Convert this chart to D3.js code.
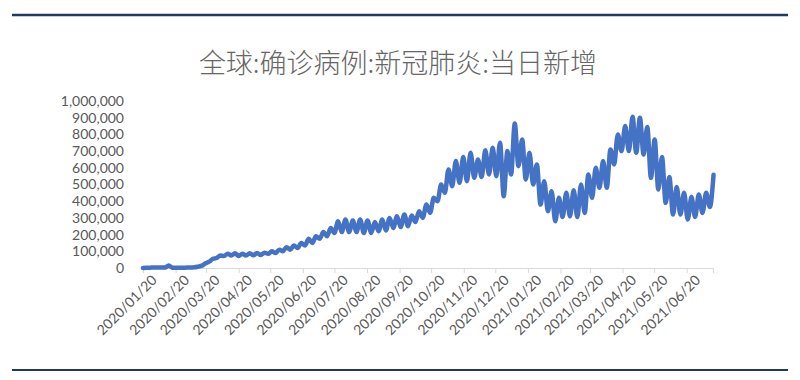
<!DOCTYPE html>
<html>
<head>
<meta charset="utf-8">
<script src="https://cdn.jsdelivr.net/npm/d3@7/dist/d3.min.js"></script>
<style>
    body { margin: 0; background: #fff; }
    svg { display: block; }
    .tick-label { font-family: Lato, 'Open Sans', sans-serif; font-size: 14px; fill: #595959; }
</style>
</head>
<body>
<div id="vis"></div>
<script>
'use strict';

var title = '全球:确诊病例:新冠肺炎:当日新增';

// daily new cases in thousands: one low and one high per week,
// weeks starting 2020/01/20
var weekLows = [
    0.5, 2, 3, 2.5, 2, 1.5, 2.5, 4, 14, 38,
    60, 72, 75, 72, 75, 76, 78, 85, 90, 100,
    110, 120, 135, 150, 175, 190, 210, 215, 215, 215,
    210, 210, 220, 225, 240, 245, 250, 275, 300, 330,
    400, 450, 490, 510, 520, 540, 545, 560, 550, 430,
    560, 610, 530, 500, 380, 340, 280, 305, 310, 305,
    330, 420, 480, 480, 620, 700, 700, 690, 680, 540,
    470, 390, 320, 320, 290, 305, 330, 365
];
var weekHighs = [
    1, 3, 3.5, 15, 1.5, 2, 3.5, 8, 28, 55,
    75, 85, 88, 85, 88, 90, 92, 100, 110, 125,
    135, 150, 175, 190, 215, 240, 280, 290, 285, 290,
    285, 275, 290, 300, 310, 320, 315, 340, 380, 420,
    500, 590, 640, 665, 690, 650, 705, 720, 750, 700,
    865, 770, 690, 620, 520, 460, 420, 450, 465, 500,
    560, 600, 640, 710, 800, 850, 905, 900, 845, 770,
    665, 545, 485, 450, 425, 440, 450, 558
];

var yTicks = [0, 100000, 200000, 300000, 400000, 500000, 600000, 700000, 800000, 900000, 1000000];
var xTickLabels = [
    '2020/01/20', '2020/02/20', '2020/03/20', '2020/04/20', '2020/05/20', '2020/06/20',
    '2020/07/20', '2020/08/20', '2020/09/20', '2020/10/20', '2020/11/20', '2020/12/20',
    '2021/01/20', '2021/02/20', '2021/03/20', '2021/04/20', '2021/05/20', '2021/06/20'
];

var width = 800, height = 380;
var parseDay = d3.timeParse('%Y/%m/%d');
var startDay = parseDay('2020/01/20');

// lows and highs alternate, half a week apart
var points = [];
weekLows.forEach(function (lo, i) {
    points.push({ date: d3.timeHour.offset(startDay, i * 168), value: lo * 1000 });
    points.push({ date: d3.timeHour.offset(startDay, i * 168 + 84), value: weekHighs[i] * 1000 });
});

var svg = d3.select('#vis')
    .append('svg')
    .attr('width', width)
    .attr('height', height);

// frame rules top and bottom
svg.append('line')
    .attr('x1', 12).attr('x2', 788).attr('y1', 15).attr('y2', 15)
    .attr('stroke', '#1f3864').attr('stroke-width', 2.5);
svg.append('line')
    .attr('x1', 12).attr('x2', 788).attr('y1', 370).attr('y2', 370)
    .attr('stroke', '#1f3864').attr('stroke-width', 2);

svg.append('text')
    .text(title)
    .attr('x', 398)
    .attr('y', 73)
    .attr('text-anchor', 'middle')
    .style('font-family', "'Noto Sans CJK SC', sans-serif")
    .style('font-weight', 300)
    .style('font-size', '27px')
    .style('fill', '#666');

var x = d3.scaleTime()
    .domain([startDay, parseDay('2021/07/15')])
    .range([143, 713]);

var y = d3.scaleLinear()
    .domain([0, 1000000])
    .range([268, 101]);

// y axis labels, no axis line
var yAxis = svg.append('g')
    .attr('transform', 'translate(124,0)')
    .call(d3.axisLeft(y).tickValues(yTicks).tickFormat(d3.format(',')).tickSize(0).tickPadding(0));
yAxis.select('.domain').remove();
yAxis.selectAll('text').attr('class', 'tick-label').attr('fill', null);

// x axis
var xAxis = svg.append('g')
    .attr('transform', 'translate(0,268)')
    .call(d3.axisBottom(x)
        .tickValues(xTickLabels.map(parseDay))
        .tickFormat(d3.timeFormat('%Y/%m/%d'))
        .tickSizeOuter(0)
        .tickSize(5));
xAxis.select('.domain').attr('stroke', '#d9d9d9');
xAxis.selectAll('.tick line').attr('stroke', '#d9d9d9');
xAxis.selectAll('text')
    .attr('class', 'tick-label')
    .attr('fill', null)
    .attr('text-anchor', 'end')
    .attr('dy', '0.35em')
    .attr('transform', 'translate(5,4) rotate(-45)');

var line = d3.line()
    .x(function (d) { return x(d.date); })
    .y(function (d) { return y(d.value); })
    .curve(d3.curveMonotoneX);

svg.append('path')
    .datum(points)
    .attr('d', line)
    .attr('fill', 'none')
    .attr('stroke', '#4472c4')
    .attr('stroke-width', 4.5)
    .attr('stroke-linejoin', 'round')
    .attr('stroke-linecap', 'round');
</script>
</body>
</html>
